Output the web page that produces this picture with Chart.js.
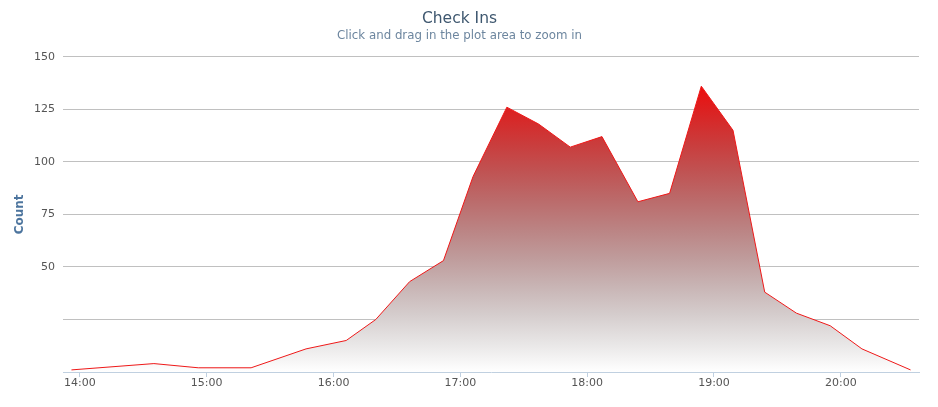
<!DOCTYPE html>
<html>
<head>
<meta charset="utf-8">
<script src="https://cdn.jsdelivr.net/npm/chart.js@4.4.1/dist/chart.umd.min.js"></script>
<style>
  html, body { margin: 0; padding: 0; background: #fff; }
  #wrap { width: 938px; height: 407px; }
</style>
</head>
<body>
<div id="wrap"><canvas id="mychart" width="938" height="407"></canvas></div>
<script>
// check-in times and counts
var times = ['13:56', '14:35', '14:56', '15:21', '15:47', '16:06', '16:20', '16:36',
             '16:52', '17:06', '17:22', '17:37', '17:52', '18:07', '18:24', '18:39',
             '18:54', '19:09', '19:24', '19:39', '19:55', '20:10', '20:33'];
var counts = [1, 4, 2, 2, 11, 15, 25, 43, 53, 93, 126, 118, 107, 112, 81, 85, 136, 115, 38, 28, 22, 11, 1];
var xTickLabels = ['14:00', '15:00', '16:00', '17:00', '18:00', '19:00', '20:00'];
var yTickLabels = ['50', '75', '100', '125', '150'];

var toMin = function (t) {
    var p = t.split(':');
    return parseInt(p[0]) * 60 + parseInt(p[1]);
};
var fmt = function (m) {
    var h = Math.floor(m / 60), mm = Math.round(m % 60);
    return (h < 10 ? '0' : '') + h + ':' + (mm < 10 ? '0' : '') + mm;
};

var points = times.map(function (t, i) { return { x: toMin(t), y: counts[i] }; });
var font = '"Lucida Grande", "DejaVu Sans", sans-serif';

// red fading to transparent dark, flattened over white
var areaFill = function (c) {
    var chart = c.chart, area = chart.chartArea;
    if (!area) return 'rgba(200,100,100,0.5)';
    var top = chart.scales.y.getPixelForValue(Math.max.apply(null, counts));
    var g = chart.ctx.createLinearGradient(0, top, 0, area.bottom);
    var base = [236, 14, 14];
    for (var i = 0; i <= 10; i++) {
        var t = i / 10, a = 1 - t;
        var col = base.map(function (v) { return Math.round(v * a * a + 255 * t); });
        g.addColorStop(t, 'rgb(' + col.join(',') + ')');
    }
    return g;
};

var ctx = document.getElementById('mychart').getContext('2d');
var myChart = new Chart(ctx, {
    type: 'line',
    data: {
        datasets: [{
            label: 'Check Ins',
            data: points,
            borderColor: 'rgb(238, 24, 24)',
            borderWidth: 1,
            backgroundColor: areaFill,
            fill: 'origin',
            pointRadius: 0,
            tension: 0
        }]
    },
    options: {
        responsive: false,
        animation: false,
        devicePixelRatio: 1,
        layout: { padding: { left: 0, right: 19, top: 0, bottom: 0 } },
        plugins: {
            legend: { display: false },
            tooltip: { enabled: false },
            title: {
                display: true,
                text: 'Check Ins',
                color: '#3E576F',
                font: { family: font, size: 15.5, weight: 'normal', lineHeight: 1.2 },
                padding: { top: 10, bottom: 0 }
            },
            subtitle: {
                display: true,
                text: 'Click and drag in the plot area to zoom in',
                color: '#6D869F',
                font: { family: font, size: 11.8, lineHeight: 1.2 },
                padding: { top: 0, bottom: 14 }
            }
        },
        scales: {
            x: {
                type: 'linear',
                min: 832,
                max: 1237,
                afterBuildTicks: function (scale) {
                    scale.ticks = xTickLabels.map(function (l) { return { value: toMin(l) }; });
                },
                afterFit: function (scale) { scale.height = 35; },
                grid: {
                    drawOnChartArea: false,
                    color: '#C0D0E0',
                    tickLength: 5
                },
                border: { color: '#C0D0E0', width: 1 },
                ticks: {
                    padding: 0,
                    maxRotation: 0,
                    autoSkip: false,
                    color: '#555',
                    font: { family: font, size: 11 },
                    callback: function (v) { return fmt(v); }
                }
            },
            y: {
                min: 0,
                max: 150,
                afterFit: function (scale) { scale.width = 63; },
                grid: {
                    color: function (c) { return c.tick && c.tick.value === 0 ? 'rgba(0,0,0,0)' : '#C0C0C0'; },
                    drawTicks: false
                },
                border: { display: false },
                ticks: {
                    stepSize: 25,
                    padding: 8,
                    color: '#555',
                    font: { family: font, size: 11 },
                    callback: function (v) { return yTickLabels.indexOf(String(v)) >= 0 ? String(v) : ''; }
                },
                title: {
                    display: true,
                    text: 'Count',
                    color: '#4D759E',
                    font: { family: font, size: 12, weight: 'bold', lineHeight: 1.2 },
                    padding: { top: 13, bottom: 0 }
                }
            }
        }
    }
});
</script>
</body>
</html>
